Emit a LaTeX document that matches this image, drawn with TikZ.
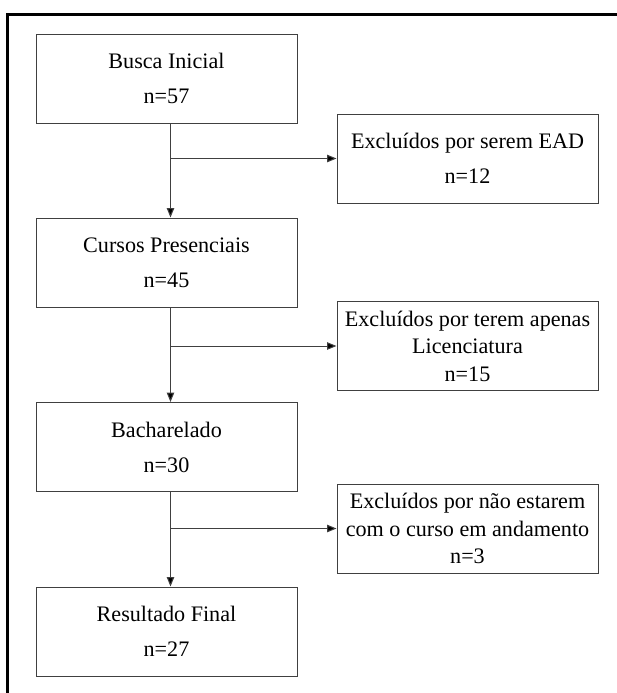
\documentclass[tikz,border=0pt]{standalone}
\usepackage{fontspec}
\setmainfont{Liberation Serif}
\usepackage{tikz}
\usetikzlibrary{arrows.meta,positioning}

\tikzset{
  stagebox/.style={draw=black!75, line width=0.75pt, minimum width=195.75pt, minimum height=66.75pt,
    align=center, inner sep=0.75pt, font=\fontsize{16.6}{20.6}\selectfont},
  flowarrow/.style={draw=black!75, line width=0.75pt, -{Triangle[length=7pt,width=5.5pt,fill=black]}}
}

\begin{document}
\begin{tikzpicture}[x=0.75pt,y=0.75pt,yscale=-1,xscale=1]
\useasboundingbox (0,0) rectangle (617,693);

%Frame [top and left edges]
\draw [line width=2.25pt]   (7.5,700) -- (7.5,14.7) -- (625,14.7) ;

% Main boxes
\node [stagebox] (busca) at (166.5,78.5) {Busca Inicial\\[5.6pt]n=57};
\node [stagebox] (cursos) at (166.5,262.5) {Cursos Presenciais\\[5.6pt]n=45};
\node [stagebox] (bacharel) at (166.5,447) {Bacharelado\\[5.6pt]n=30};
\node [stagebox] (final) at (166.5,631.5) {Resultado Final\\[5.6pt]n=27};

% Excluded boxes
\node [stagebox] (ead) at (467.5,158.5) {Exclu\'idos por serem EAD\\[5.6pt]n=12};
\node [stagebox] (licenc) at (467.5,346) {Exclu\'idos por terem apenas\\Licenciatura\\n=15};
\node [stagebox] (andam) at (467.5,528.5) {Exclu\'idos por n\~ao estarem\\com o curso em andamento\\n=3};

% Down arrows
\coordinate (d1) at ([xshift=3pt]busca.south);
\coordinate (d2) at ([xshift=3pt]cursos.south);
\coordinate (d3) at ([xshift=3pt]bacharel.south);
\draw [flowarrow] (d1) -- ([xshift=3pt]cursos.north) ;
\draw [flowarrow] (d2) -- ([xshift=3pt]bacharel.north) ;
\draw [flowarrow] (d3) -- ([xshift=3pt]final.north) ;

% Side arrows
\draw [flowarrow] (d1 |- ead.west) -- (ead.west) ;
\draw [flowarrow] (d2 |- licenc.west) -- (licenc.west) ;
\draw [flowarrow] (d3 |- andam.west) -- (andam.west) ;

\end{tikzpicture}
\end{document}
